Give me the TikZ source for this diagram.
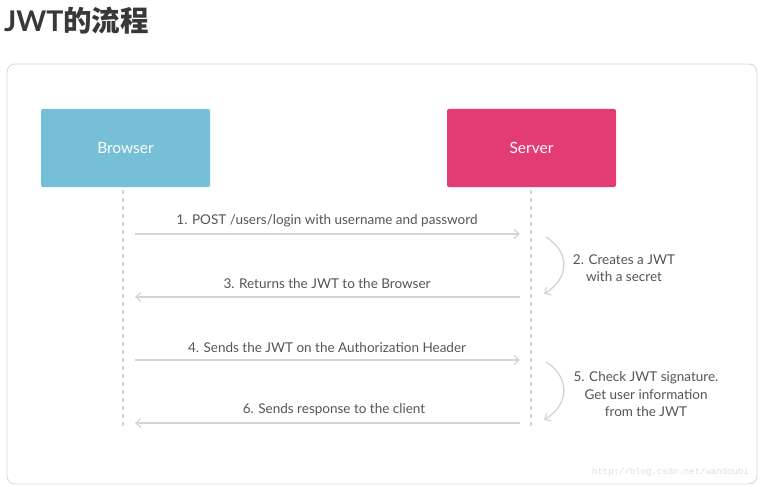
\documentclass[tikz,border=0pt]{standalone}
\usepackage{fontspec}
\setmainfont{Lato}
\newfontfamily\cjkfont{Noto Sans CJK SC}
\newfontfamily\monofont{Liberation Mono}
\usetikzlibrary{arrows.meta}
\definecolor{browsercol}{HTML}{75BFD7}
\definecolor{servercol}{HTML}{E33B73}
\definecolor{linecol}{HTML}{D4D4D4}
\definecolor{txtcol}{HTML}{555555}
\definecolor{framecol}{HTML}{D8D8D8}
\begin{document}
\begin{tikzpicture}[x=1pt,y=-1pt,
  actor/.style={rounded corners=2pt, minimum width=169pt, minimum height=78pt, inner sep=0pt, text=white, font=\fontsize{15.5}{18}\selectfont},
  lifeline/.style={draw=linecol, line width=1.2pt, dash pattern=on 4pt off 4pt},
  msg/.style={draw=linecol, line width=1.3pt, -{Straight Barb[length=5pt,width=9pt,line width=1.2pt]}},
  lbl/.style={text=txtcol, font=\fontsize{13.5}{17.5}\selectfont, inner sep=0pt, align=center},
]
\useasboundingbox (0,0) rectangle (769,487);
\fill[white] (0,0) rectangle (769,487);
\node[anchor=west, inner sep=0pt, text=black!78, font=\fontsize{28.5}{32}\selectfont\bfseries] (title) at (4,21) {JWT{\cjkfont\bfseries 的流程}};
\draw[framecol, line width=0.9pt, rounded corners=8pt] (7,64) rectangle (757,484);
\node[actor, fill=browsercol] (browser) at (125.5,148) {Browser};
\node[actor, fill=servercol] (server) at (531.5,148) {Server};
\coordinate (bt) at (123,190); \coordinate (bb) at (123,428);
\coordinate (st) at (531,190); \coordinate (sb) at (531,428);
\draw[lifeline] (bt) -- (bb);
\draw[lifeline] (st) -- (sb);
\coordinate (a1s) at (135,234); \coordinate (a1e) at (520,234);
\coordinate (a3s) at (520,297); \coordinate (a3e) at (135,297);
\coordinate (a4s) at (135,360); \coordinate (a4e) at (520,360);
\coordinate (a6s) at (520,423); \coordinate (a6e) at (135,423);
\draw[msg] (a1s) -- (a1e);
\draw[msg] (a3s) -- (a3e);
\draw[msg] (a4s) -- (a4e);
\draw[msg] (a6s) -- (a6e);
\node[lbl] (l1) at (327,220.5) {1. POST /users/login with username and password};
\node[lbl] (l3) at (327,284) {3. Returns the JWT to the Browser};
\node[lbl] (l4) at (327,347.5) {4. Sends the JWT on the Authorization Header};
\node[lbl] (l6) at (334,410) {6. Sends response to the client};
\coordinate (c2s) at (546,237); \coordinate (c2e) at (544,294);
\coordinate (c5s) at (546,362); \coordinate (c5e) at (544,420);
\draw[msg] (c2s) .. controls (570,252) and (570,278) .. (c2e);
\draw[msg] (c5s) .. controls (570,377) and (570,404) .. (c5e);
\node[lbl] (l2) at (624,268) {2. Creates a JWT\\with a secret};
\node[lbl] (l5) at (646,394.5) {5. Check JWT signature.\\Get user information\\from the JWT};
\node[anchor=east, inner sep=0pt, text=black!13, font=\monofont\fontsize{9}{11}\selectfont] (wm) at (749,472) {http://blog.csdn.net/wandoubi};
\end{tikzpicture}
\end{document}
